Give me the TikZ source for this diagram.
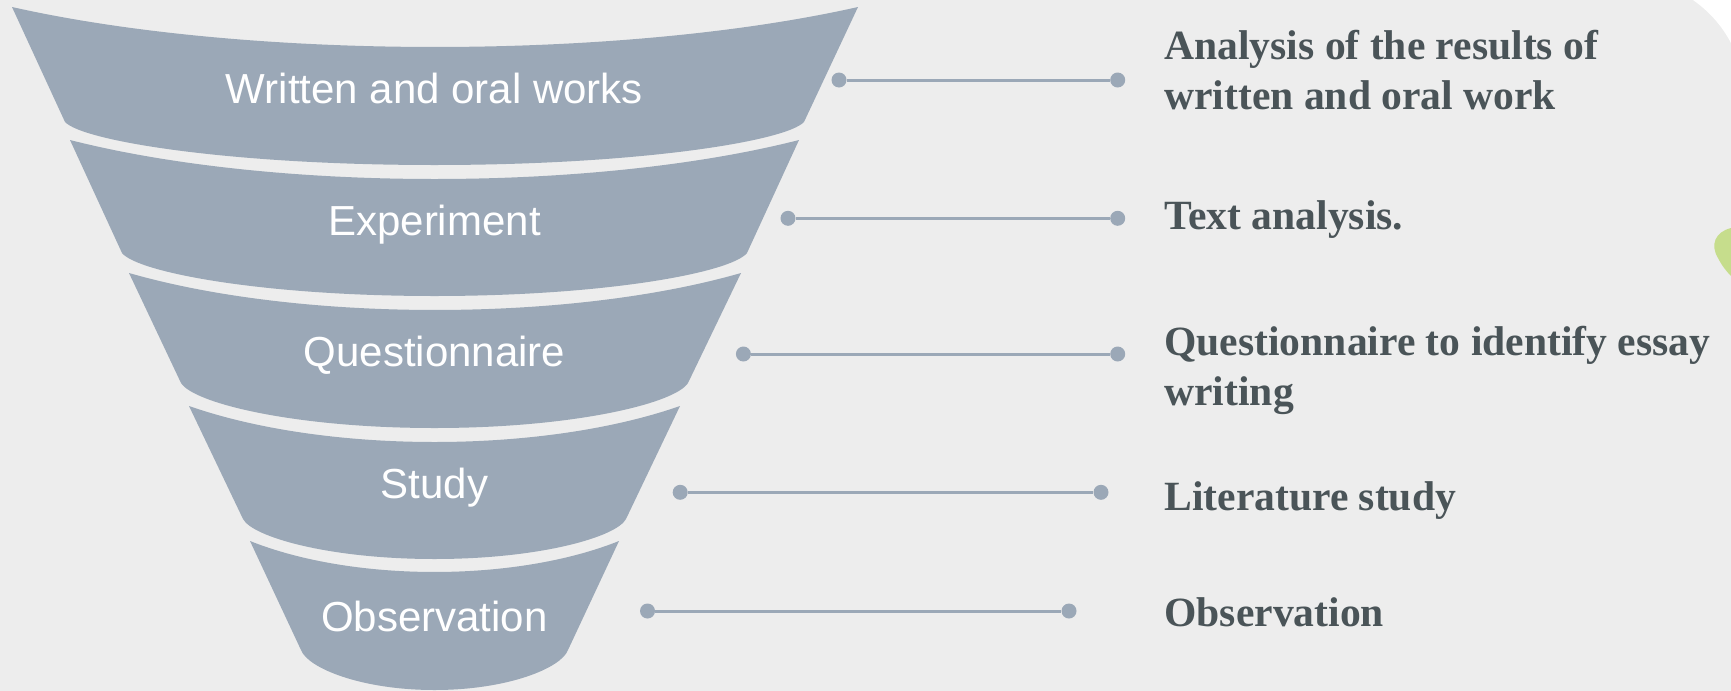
\documentclass[tikz,border=0pt]{standalone}
\usepackage{fontspec}
\setmainfont{Liberation Serif}
\newfontfamily\funnelfont{Liberation Sans}
\usepackage{tikz}
\definecolor{funnelgray}{HTML}{9BA8B7}
\definecolor{backgray}{HTML}{EDEDED}
\definecolor{notegray}{HTML}{4A5458}
\definecolor{leafgreen}{HTML}{C6DD8C}

\begin{document}
\begin{tikzpicture}[x=0.5pt,y=-0.5pt,
               seg/.style={fill=funnelgray},
               lbl/.style={anchor=base,text=white,font=\funnelfont\fontsize{21}{25}\selectfont},
               note/.style={anchor=base west,text=notegray,align=left,inner sep=0pt,font=\bfseries\fontsize{20.8}{25}\selectfont},
               dot/.style={circle,fill=funnelgray,inner sep=0pt,minimum size=7.5pt},
               link/.style={draw=funnelgray,line width=1.5pt}]
               \useasboundingbox (0,0) rectangle (1731,691);
               \fill[backgray] (0,0) rectangle (1731,691);
               \fill[white] (1693,0) .. controls (1710,12) and (1722,26) .. (1731,43) -- (1731,0) -- cycle;
               \fill[leafgreen] (1731,228) .. controls (1715,232) and (1710,245) .. (1718,258) .. controls (1722,266) and (1727,272) .. (1731,276) -- cycle;
               % funnel, top to bottom
               \fill[seg] (12,7) -- (65,122) .. controls (83.5,141.4) and (231.3,165) .. (434.5,165) .. controls (637.7,165) and (785.5,141.4) .. (804,122) -- (858,7) .. controls (621,60.3) and (249,60.3) .. (12,7) -- cycle;
               \fill[seg] (70,140) -- (122,253) .. controls (137.6,272.4) and (262.6,296) .. (434.5,296) .. controls (606.4,296) and (731.4,272.4) .. (747,253) -- (799,140) .. controls (594.9,192) and (274.1,192) .. (70,140) -- cycle;
               \fill[seg] (129,273) -- (181,383) .. controls (193.7,403.3) and (295.1,428) .. (434.5,428) .. controls (573.9,428) and (675.3,403.3) .. (688,383) -- (741,273) .. controls (569.6,322.3) and (300.4,322.3) .. (129,273) -- cycle;
               \fill[seg] (189,406) -- (243,519) .. controls (252.6,537) and (329.2,559) .. (434.5,559) .. controls (539.8,559) and (616.4,537) .. (626,519) -- (680,406) .. controls (542.5,454) and (326.5,454) .. (189,406) -- cycle;
               \fill[seg] (250,541) -- (301,650) .. controls (307.7,668) and (361.1,690) .. (434.5,690) .. controls (507.9,690) and (561.3,668) .. (568,650) -- (619,541) .. controls (515.7,582.3) and (353.3,582.3) .. (250,541) -- cycle;
               \node[lbl] (written) at (434.5,103.3) {Written and oral works};
               \node[lbl] (experiment) at (434.5,235) {Experiment};
               \node[lbl] (questionnaire) at (434.5,366.7) {Questionnaire};
               \node[lbl] (study) at (434.5,498.3) {Study};
               \node[lbl] (observation) at (434.5,631.7) {Observation};
               % connectors
               \node[dot] (w1) at (839,80) {};
               \node[dot] (w2) at (1117.7,80) {};
               \node[dot] (e1) at (788,218.3) {};
               \node[dot] (e2) at (1117.7,218.3) {};
               \node[dot] (q1) at (743.4,354) {};
               \node[dot] (q2) at (1117.7,354) {};
               \node[dot] (s1) at (680.2,492.3) {};
               \node[dot] (s2) at (1101,492.3) {};
               \node[dot] (o1) at (647.5,611) {};
               \node[dot] (o2) at (1069,611) {};
               \draw[link] (w1) -- (w2);
               \draw[link] (e1) -- (e2);
               \draw[link] (q1) -- (q2);
               \draw[link] (s1) -- (s2);
               \draw[link] (o1) -- (o2);
               % notes on the right (base = last line)
               \node[note] (writtennote) at (1164,109) {Analysis of the results of\\written and oral work};
               \node[note] (experimentnote) at (1164,229) {Text analysis.};
               \node[note] (questionnairenote) at (1164,405) {Questionnaire to identify essay\\writing};
               \node[note] (studynote) at (1164,510) {Literature study};
               \node[note] (observationnote) at (1164,626.7) {Observation};
\end{tikzpicture}
\end{document}
